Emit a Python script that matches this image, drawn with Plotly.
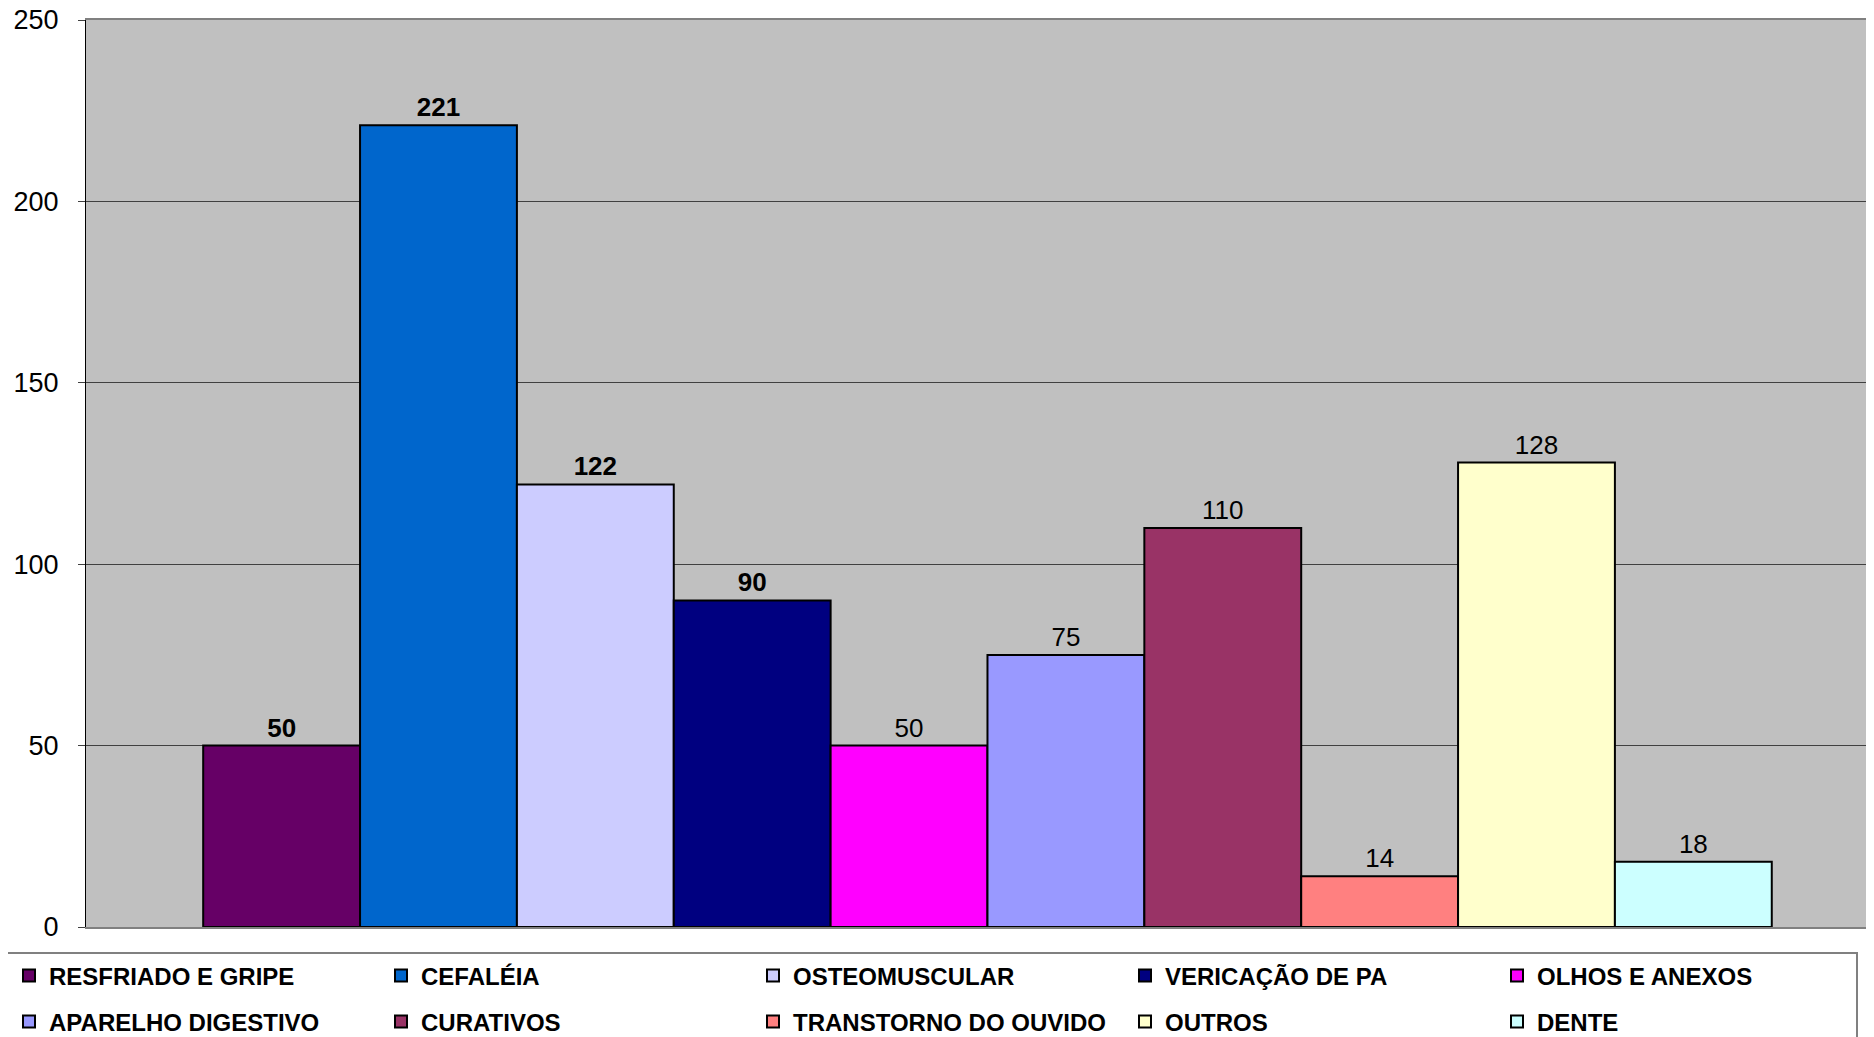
import plotly.graph_objects as go

categories = ["RESFRIADO E GRIPE", "CEFALÉIA", "OSTEOMUSCULAR", "VERICAÇÃO DE PA",
              "OLHOS E ANEXOS", "APARELHO DIGESTIVO", "CURATIVOS",
              "TRANSTORNO DO OUVIDO", "OUTROS", "DENTE"]
values = [50, 221, 122, 90, 50, 75, 110, 14, 128, 18]
colors = ["#660066", "#0066CC", "#CCCCFF", "#000080", "#FF00FF",
          "#9999FF", "#993366", "#FF8080", "#FFFFCC", "#CCFFFF"]
bold_labels = [True, True, True, True, False, False, False, False, False, False]
y_ticks = [0, 50, 100, 150, 200, 250]

# page body has an 8px margin; work in page pixels and shift by OFF
OFF = 8
W, H = 1874 - OFF, 1037 - OFF
ML, MR, MT = 86 - OFF, 0, 20 - OFF
MB = H - (927 - OFF)
PW = W - ML - MR
PH = H - MT - MB

FONT = "Liberation Sans, Arial, sans-serif"

fig = go.Figure()
for i, (name, v, c, b) in enumerate(zip(categories, values, colors, bold_labels)):
    fig.add_trace(go.Bar(
        x=["Atendimentos"], y=[v], name=name,
        marker=dict(color=c, line=dict(color="#000000", width=2)),
        text=[v], texttemplate="%{y}", textposition="outside",
        textfont=dict(family=FONT, size=26, color="#000000",
                      weight="bold" if b else "normal"),
        cliponaxis=False,
        legend="legend" if i < 5 else "legend2",
        hoverinfo="name+y",
    ))

def px_to_paper_x(page_px):
    return (page_px - OFF - ML) / PW

def px_to_paper_y(page_py):
    return (H - MB - (page_py - OFF)) / PH

legend_common = dict(
    orientation="h", entrywidth=327, entrywidthmode="pixels",
    font=dict(family=FONT, size=24, color="#000000", weight="bold"),
    bgcolor="rgba(0,0,0,0)", borderwidth=0,
    xanchor="left", yanchor="middle", traceorder="normal",
    itemclick=False, itemdoubleclick=False,
)

fig.update_layout(
    width=W, height=H,
    margin=dict(l=ML, r=MR, t=MT, b=MB, autoexpand=False),
    paper_bgcolor="#FFFFFF", plot_bgcolor="#C0C0C0",
    barmode="group", bargap=0.13, bargroupgap=0,
    font=dict(family=FONT, color="#000000"),
    showlegend=True,
    legend=dict(x=px_to_paper_x(9), y=px_to_paper_y(976), **legend_common),
    legend2=dict(x=px_to_paper_x(9), y=px_to_paper_y(1022), **legend_common),
    xaxis=dict(type="category", range=[-0.5, 0.4917], showticklabels=False,
               showgrid=False, zeroline=False, ticks="",
               showline=True, linecolor="#808080", linewidth=2, mirror=True),
    yaxis=dict(range=[0, 250], tickvals=y_ticks, showgrid=True,
               gridcolor="#404040", gridwidth=1, zeroline=False,
               showline=True, linecolor="#000000", linewidth=1,
               ticks="outside", ticklen=7, tickcolor="#404040",
               ticklabelstandoff=14, ticklabeloverflow="allow",
               tickfont=dict(family=FONT, size=27, color="#000000")),
    shapes=[dict(type="rect", xref="paper", yref="paper",
                 x0=px_to_paper_x(3), x1=px_to_paper_x(1857),
                 y0=px_to_paper_y(953), y1=px_to_paper_y(1100),
                 line=dict(color="#808080", width=2),
                 fillcolor="rgba(0,0,0,0)", layer="below")],
)

fig.write_html("out.html")
